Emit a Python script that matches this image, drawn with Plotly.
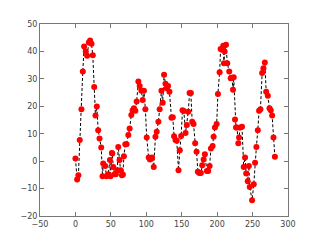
import plotly.graph_objects as go

x_vals = [0, 2.4, 4.2, 6.1, 8.5, 10.4, 12.3, 14.6, 16.5, 18.9, 20.7, 22.7, 24.5, 26.5,
          28.3, 30.2, 32.1, 34, 36.4, 38.2, 39.2, 42, 43.9, 46.3, 48.6, 49.6, 51.4,
          52, 53.4, 55.2, 57.1, 59, 60.4, 62.3, 63.7, 65.6, 67, 68.4, 70.4, 72.2, 74.6,
          76.5, 78.9, 80.7, 82.6, 84.6, 86.4, 88.8, 90.7, 93, 94.9, 96.7, 98.7, 100.6,
          103.4, 105.2, 107, 108.1, 110.5, 112.9, 114.7, 117.1, 118.9, 121.4, 123.2,
          125.1, 127.1, 128.9, 130.7, 132.7, 135.5, 137.4, 139.2, 141.2, 143, 145.5,
          147.3, 149.2, 151.1, 153, 155.4, 157.2, 159.2, 161.1, 162.9, 164.8, 166.7,
          169, 171, 172.8, 174.7, 177, 178.9, 180.9, 182.7, 185.5, 187.4, 189.4, 191.2,
          193.6, 195, 196.9, 199.3, 201.1, 203.5, 204.9, 206.8, 208.6, 209.6, 210.6,
          212.5, 214.3, 217.1, 219.1, 220.9, 222.4, 223.4, 225.2, 226.6, 228, 229.9,
          230.9, 232.5, 235.1, 237.5, 239.4, 241, 243.2, 244.8, 246, 249.3, 251.7,
          253.5, 255.4, 257.4, 259.2, 261.1, 263.5, 265.3, 267.3, 269.2, 271.5, 273.9,
          275.7, 277.6, 279.5, 281.5]
y_vals = [1, -6.7, -5.1, 7.7, 18.9, 32.7, 41.8, 40, 38.4, 43.3, 44, 42.8, 38.6, 27,
          16.6, 19.9, 11.3, 8.3, 5, -5.5, -0.9, -1.8, -5.5, -4.8, 0.4, -5.5, 3,
          2.8, -2.1, -4.8, -4.8, -3.3, 5.2, 0.4, -3.3, -5.1, -4.9, 1.8, 6.2, 6.2, 9.5,
          11.9, 16.8, 18.6, 19.3, 18.4, 21.7, 29, 27.4, 25.7, 22.3, 25.7, 18.9, 8.6,
          1.3, 0.6, 1, 1.3, -2.1, 8.9, 10.7, 14.4, 18.9, 25.7, 21.3,
          31.5, 28.2, 26.6, 27.4, 25.3, 15.8, 16, 9.1, 7.7, 7.4, -3.3,
          4, 9.2, 18.6, 18.3, 10.3, 13.2, 18, 24.8, 24.8, 14.4, 13.5,
          6.5, 3.4, -3.9, -4.3, -4.3, -1.5, 0.6, 2.5, -3.6, -3.6, -1.8, 4.6,
          5.5, 8.9, 12.3, 13.5, 24.5, 32.4, 40.9, 40.6, 42.1, 35.7, 40,
          42.4, 35.7, 32.7, 30.2, 30.4, 26, 30.6, 15.2, 12.3, 12.3, 6.5,
          8.6, 12.3, 12.5, -2.1, 1.3, -4.5, -7.3, -1.8, -9.4, -14.3, -8.4,
          -0.6, 5.2, 11.3, 18.4, 18.9, 32.1, 33.9, 36, 25.3, 23.8, 19.3,
          18.6, 16.6, 8.6, 1.6]

x_ticks = [-50, 0, 50, 100, 150, 200, 250, 300]
y_ticks = [-20, -10, 0, 10, 20, 30, 40, 50]


def fmt(v):
    return ("\u2212" + str(-v)) if v < 0 else str(v)


fig = go.Figure()
fig.add_trace(go.Scatter(
    x=x_vals, y=y_vals, mode="lines+markers",
    line=dict(color="black", width=1, dash="3px,2px"),
    marker=dict(color="red", size=6, line=dict(width=0)),
    showlegend=False,
))

axis_common = dict(
    showgrid=False, zeroline=False, showline=True, linecolor="#777", linewidth=1,
    mirror="ticks", ticks="inside", ticklen=4, tickcolor="#777", tickwidth=1,
    tickfont=dict(family="DejaVu Sans", size=8, color="#444"),
)
fig.update_xaxes(range=[-50, 300], tickvals=x_ticks, ticktext=[fmt(v) for v in x_ticks],
                 **axis_common)
fig.update_yaxes(range=[-20, 50], tickvals=y_ticks, ticktext=[fmt(v) for v in y_ticks],
                 **axis_common)

fig.update_layout(
    width=320, height=240,
    margin=dict(l=40, r=32, t=24, b=24, pad=0),
    paper_bgcolor="white", plot_bgcolor="white",
)
fig.write_html("out.html", config={"displayModeBar": False})
